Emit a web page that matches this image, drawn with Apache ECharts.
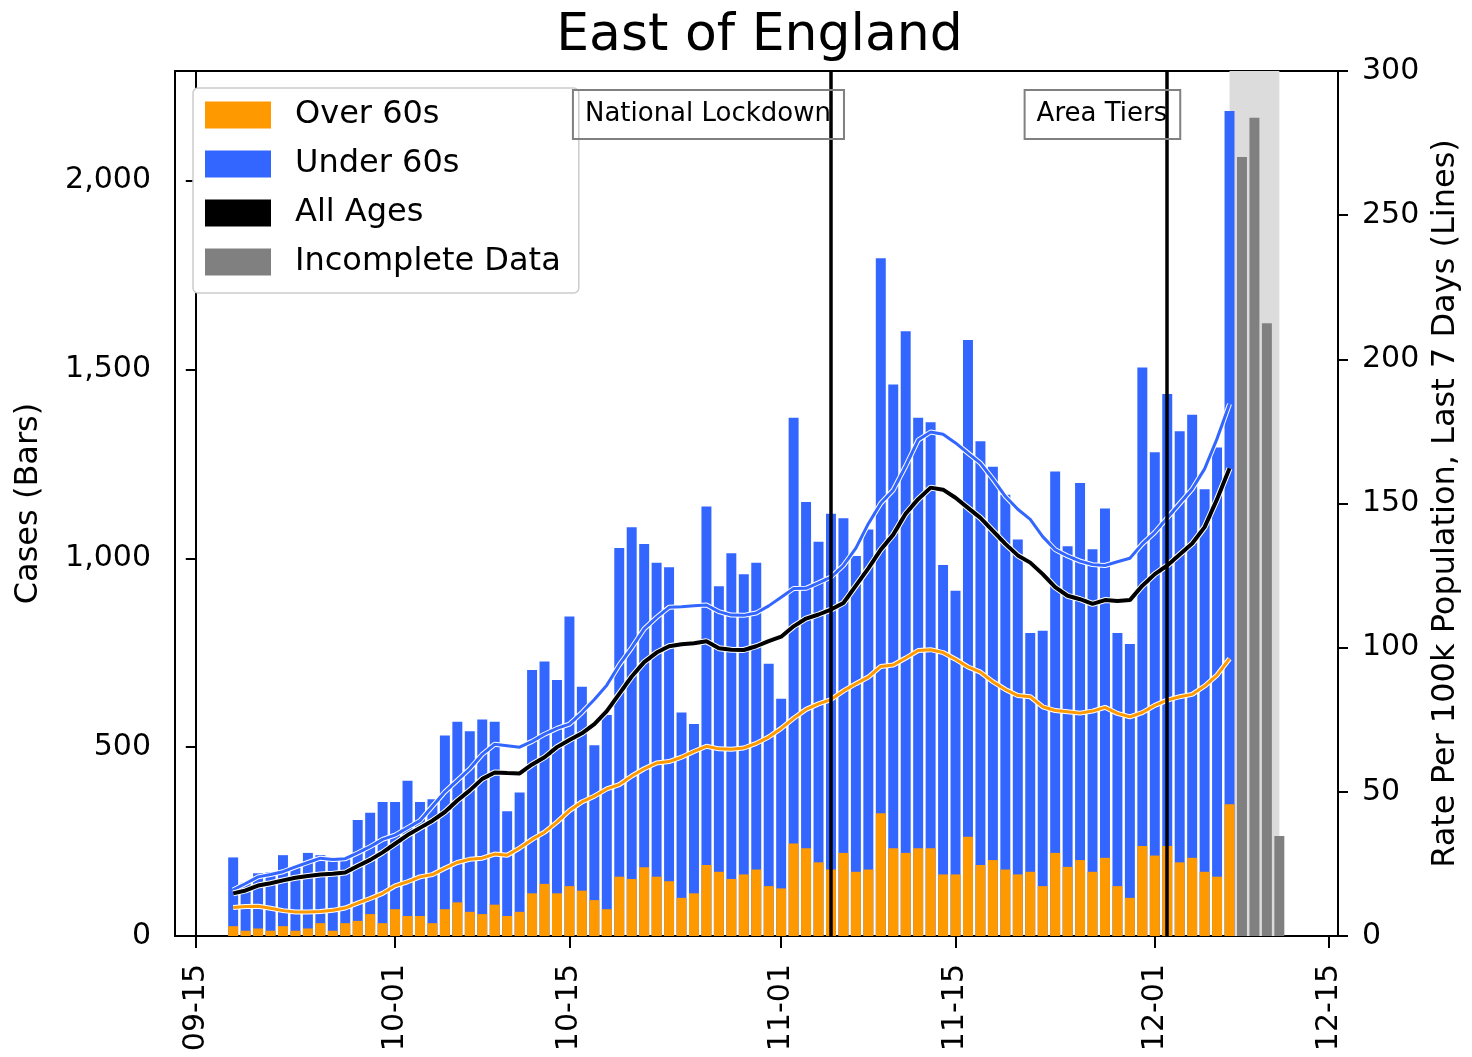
<!DOCTYPE html>
<html>
<head>
<meta charset="utf-8">
<script src="https://cdn.jsdelivr.net/npm/echarts@6/dist/echarts.min.js"></script>
<style>
  html, body { margin: 0; padding: 0; background: #fff; }
  #chart { width: 1472px; height: 1057px; }
</style>
</head>
<body>
<div id="chart"></div>
<script>
// ---- Data -------------------------------------------------------------
const firstDate = '2020-09-18';           // first day of the complete daily counts

// Daily cases, over 60s (bottom part of each bar)
const over60 = [
  26, 14, 20, 14, 26, 14, 20, 34, 14, 34,
  40, 58, 34, 71, 53, 53, 34, 71, 89, 64,
  58, 83, 53, 64, 113, 138, 113, 132, 120, 95,
  71, 157, 151, 182, 157, 145, 101, 113, 188, 170,
  151, 163, 176, 132, 126, 245, 232, 195, 176, 220,
  170, 176, 325, 232, 220, 232, 232, 163, 163, 263,
  188, 201, 176, 163, 170, 132, 220, 183, 201, 170,
  207, 132, 101, 238, 213, 238, 195, 207, 170, 157,
  349
];

// Daily cases, under 60s (upper part of each bar)
const under60 = [
  182, 127, 146, 154, 188, 167, 200, 180, 187, 171,
  267, 268, 321, 284, 358, 302, 328, 460, 478, 478,
  515, 484, 277, 316, 591, 589, 565, 714, 540, 410,
  514, 870, 931, 856, 831, 831, 491, 448, 949, 756,
  862, 795, 812, 589, 502, 1127, 917, 849, 942, 886,
  836, 900, 1469, 1228, 1381, 1140, 1128, 819, 751, 1315,
  1122, 1041, 992, 887, 632, 676, 1010, 849, 998, 854,
  925, 670, 672, 1267, 1068, 1197, 1141, 1173, 1013, 1136,
  1835
];

// Most recent days, still being reported
const incompleteDates = ['2020-12-08', '2020-12-09', '2020-12-10', '2020-12-11'];
const incompleteCases = [2062, 2166, 1622, 265];

// Rolling 7-day rate per 100k population
const rateOver60 = [
  9.9, 10.2, 10.3, 9.6, 8.8, 8.3, 8.3, 8.5, 8.9, 9.7,
  11.4, 13.0, 14.8, 17.4, 18.8, 20.5, 21.3, 23.5, 25.5, 26.6,
  27.0, 28.4, 28.0, 30.5, 33.5, 36.0, 39.5, 43.5, 46.5, 48.5,
  51.0, 52.5, 55.5, 58.0, 60.0, 60.5, 62.0, 64.0, 65.8, 64.9,
  64.8, 65.2, 66.8, 69.0, 72.0, 75.5, 78.6, 80.5, 82.0, 85.0,
  87.5, 89.8, 93.5, 94.0, 96.4, 99.0, 99.3, 98.3, 96.0, 93.3,
  91.5, 88.2, 85.5, 83.4, 83.0, 79.5, 78.2, 77.8, 77.3, 78.0,
  79.3, 77.2, 76.0, 77.5, 80.0, 81.8, 83.0, 83.8, 86.7, 90.5,
  96.2
];
const rateUnder60 = [
  16.0, 18.2, 20.5, 21.3, 22.3, 24.0, 25.5, 27.0, 26.5, 26.8,
  28.8, 31.0, 33.5, 35.0, 37.5, 40.0, 45.0, 50.0, 54.0, 58.0,
  63.0, 66.5, 66.0, 65.5, 67.5, 70.0, 72.0, 73.5, 77.5, 82.0,
  87.0, 94.0, 100.0, 106.5, 110.5, 114.0, 114.2, 114.5, 114.8, 112.5,
  111.3, 111.2, 112.0, 114.5, 117.5, 120.5, 120.6, 122.5, 124.5, 128.5,
  134.5, 143.0, 150.1, 154.7, 163.0, 172.0, 174.8, 174.0, 171.0, 167.5,
  164.0, 158.5, 152.5, 148.0, 144.5, 138.5, 134.0, 131.8, 130.0, 128.8,
  128.5, 129.8, 131.0, 136.0, 140.0, 145.0, 150.0, 155.0, 162.0, 172.5,
  184.5
];
const rateAll = [
  14.8, 15.8, 17.5, 18.3, 19.3, 20.2, 20.8, 21.3, 21.6, 22.0,
  24.3, 26.4, 29.0, 32.0, 35.0, 37.5, 40.0, 43.0, 47.0, 50.5,
  54.5, 56.7, 56.5, 56.4, 59.5, 62.0, 65.5, 68.0, 70.3, 73.5,
  78.0, 84.0, 90.0, 95.0, 98.3, 100.5, 101.2, 101.5, 102.2, 99.8,
  99.3, 99.2, 100.5, 102.3, 103.8, 107.4, 110.1, 111.5, 113.2, 115.5,
  121.5, 127.5, 134.0, 139.2, 146.5, 151.5, 155.5, 154.8, 152.0, 148.5,
  145.0, 140.5, 136.0, 132.0, 129.5, 125.5, 121.0, 118.0, 116.8, 115.2,
  116.5, 116.2, 116.5, 121.5, 125.5, 128.5, 132.3, 136.1, 141.8, 151.5,
  162.2
];

// Axis ticks
const xTickDates  = ['2020-09-15', '2020-10-01', '2020-10-15', '2020-11-01', '2020-11-15', '2020-12-01', '2020-12-15'];
const xTickLabels = ['09-15', '10-01', '10-15', '11-01', '11-15', '12-01', '12-15'];
const caseTicks = [0, 500, 1000, 1500, 2000];
const rateTicks = [0, 50, 100, 150, 200, 250, 300];

// Policy events and the incomplete-data window
const eventDates  = ['2020-11-05', '2020-12-02'];
const eventLabels = ['National Lockdown', 'Area Tiers'];
const incompleteSpan = ['2020-12-07', '2020-12-11'];

// ---- Helpers ----------------------------------------------------------
const FONT = 'DejaVu Sans';
const ORANGE = '#ff9900', BLUE = '#3366ff', GREY = '#808080', SHADE = '#dcdcdc';
const DAY_MS = 86400000;
const ORIGIN = Date.UTC(2020, 8, 15);   // x = days since 15 Sep 2020

function dayOf(iso) {
  const [y, m, d] = iso.split('-').map(Number);
  return Math.round((Date.UTC(y, m - 1, d) - ORIGIN) / DAY_MS);
}
const firstDay = dayOf(firstDate);
const barDays = over60.map((_, i) => firstDay + i);
const pairs = (vals) => vals.map((v, i) => [barDays[i], v]);
// top of each bar = over 60s + under 60s; the over-60 part is painted over its lower section
const totals = over60.map((v, i) => v + under60[i]);

// Plot area
const GRID = { left: 175, right: 134, top: 71, bottom: 121 };
const CHART_W = 1472;
const X_MIN = -1.67, X_MAX = 91.71;
const CASE_MAX = 2290;
const plotW = CHART_W - GRID.left - GRID.right;
const barW = plotW / (X_MAX - X_MIN) * 0.8;

const thousands = (v) => String(v).replace(/\B(?=(\d{3})+(?!\d))/g, ',');
const xTickDays = xTickDates.map(dayOf);

const chart = echarts.init(document.getElementById('chart'), null, { renderer: 'canvas' });

function rateLine(name, data, color, width) {
  return [
    { // thin white outline under each rate line
      name: name + ' outline', type: 'line', yAxisIndex: 1, data: pairs(data),
      showSymbol: false, silent: true,
      lineStyle: { color: '#ffffff', width: width + 2 }, z: 3
    },
    {
      name, type: 'line', yAxisIndex: 1, data: pairs(data),
      showSymbol: false,
      itemStyle: { color }, lineStyle: { color, width }, z: 3
    }
  ];
}

const option = {
  animation: false,
  backgroundColor: '#ffffff',
  textStyle: { fontFamily: FONT, color: '#000' },
  title: {
    text: 'East of England',
    left: GRID.left + plotW / 2 - 2, top: 5, textAlign: 'center',
    textStyle: { fontFamily: FONT, fontSize: 52, fontWeight: 'normal', color: '#000' }
  },
  grid: {
    left: GRID.left, right: GRID.right, top: GRID.top, bottom: GRID.bottom,
    show: true, borderColor: '#000', borderWidth: 2, backgroundColor: 'transparent',
    containLabel: false, outerBoundsMode: 'none'
  },
  legend: {
    orient: 'vertical', left: 193, top: 88,
    data: ['Over 60s', 'Under 60s', 'All Ages', 'Incomplete Data'],
    icon: 'rect', itemWidth: 66, itemHeight: 27, itemGap: 17,
    padding: [11, 18, 15, 12],
    selectedMode: false,
    backgroundColor: '#ffffff', borderColor: '#cccccc', borderWidth: 1.5, borderRadius: 5,
    textStyle: { fontFamily: FONT, fontSize: 32, color: '#000', lineHeight: 30, padding: [0, 0, 0, 19] }
  },
  xAxis: {
    type: 'value', min: X_MIN, max: X_MAX,
    axisLine: { show: true, lineStyle: { color: '#000', width: 2 } },
    axisTick: { show: true, length: 12, lineStyle: { color: '#000', width: 2 }, customValues: xTickDays },
    axisLabel: {
      rotate: 90, margin: 28, fontFamily: FONT, fontSize: 30, color: '#000',
      customValues: xTickDays,
      formatter: (v) => xTickLabels[xTickDays.indexOf(Math.round(v))] || ''
    },
    splitLine: { show: false }
  },
  yAxis: [
    {
      type: 'value', min: 0, max: CASE_MAX, position: 'left',
      name: 'Cases (Bars)', nameLocation: 'middle', nameGap: 130, nameRotate: 90,
      nameTextStyle: { fontFamily: FONT, fontSize: 32, color: '#000' },
      axisLine: { show: true, lineStyle: { color: '#000', width: 2 } },
      axisTick: { show: true, length: 10, lineStyle: { color: '#000', width: 2 }, customValues: caseTicks },
      axisLabel: { margin: 24, fontFamily: FONT, fontSize: 30, color: '#000',
                   customValues: caseTicks, formatter: (v) => thousands(v) },
      splitLine: { show: false }
    },
    {
      type: 'value', min: 0, max: 300, position: 'right',
      name: 'Rate Per 100k Population, Last 7 Days (Lines)', nameLocation: 'middle', nameGap: 92, nameRotate: 90,
      nameTextStyle: { fontFamily: FONT, fontSize: 32, color: '#000' },
      axisLine: { show: true, lineStyle: { color: '#000', width: 2 } },
      axisTick: { show: true, length: 10, lineStyle: { color: '#000', width: 2 }, customValues: rateTicks },
      axisLabel: { margin: 24, fontFamily: FONT, fontSize: 30, color: '#000', customValues: rateTicks },
      splitLine: { show: false }
    }
  ],
  series: [
    {
      name: 'Under 60s', type: 'bar', barWidth: barW, barGap: '-100%',
      data: pairs(totals), itemStyle: { color: BLUE }, z: 2
    },
    {
      name: 'Over 60s', type: 'bar', barWidth: barW, barGap: '-100%',
      data: pairs(over60), itemStyle: { color: ORANGE }, z: 2
    },
    {
      name: 'Incomplete Data', type: 'bar', barWidth: barW, barGap: '-100%',
      data: incompleteDates.map((d, i) => [dayOf(d), incompleteCases[i]]),
      itemStyle: { color: GREY }, z: 2,
      markArea: {
        silent: true, z: 1,
        itemStyle: { color: SHADE },
        data: [[{ xAxis: dayOf(incompleteSpan[0]) }, { xAxis: dayOf(incompleteSpan[1]) }]]
      }
    },
    ...rateLine('Over 60s rate', rateOver60, ORANGE, 3),
    ...rateLine('Under 60s rate', rateUnder60, BLUE, 3),
    ...rateLine('All Ages', rateAll, '#000000', 4).map((s, i) => i === 1 ? Object.assign(s, {
      markLine: {
        silent: true, symbol: 'none', z: 6,
        label: { show: false },
        lineStyle: { color: '#000', width: 3.5, type: 'solid' },
        data: eventDates.map((d) => ({ xAxis: dayOf(d) }))
      }
    }) : s)
  ]
};

chart.setOption(option);

// Event annotations: boxed labels whose right edge sits on the event line
const measure = document.createElement('canvas').getContext('2d');
const ANN_FONT = 26;
measure.font = ANN_FONT + 'px "' + FONT + '"';
const annY = 114.5, annH = 49, padL = 12, padR = 13;
const graphics = [];
eventDates.forEach((d, i) => {
  const x = chart.convertToPixel({ xAxisIndex: 0 }, dayOf(d));
  const w = measure.measureText(eventLabels[i]).width;
  graphics.push({
    type: 'rect', z: 10,
    shape: { x: x - w - padL, y: annY - annH / 2, width: w + padL + padR, height: annH },
    style: { fill: 'rgba(255,255,255,0)', stroke: '#808080', lineWidth: 2 }
  });
  graphics.push({
    type: 'text', z: 9,
    x: x, y: annY,
    style: { text: eventLabels[i], fontFamily: FONT, fontSize: ANN_FONT, fill: '#000',
             align: 'right', verticalAlign: 'middle' }
  });
});
chart.setOption({ graphic: graphics });
</script>
</body>
</html>
